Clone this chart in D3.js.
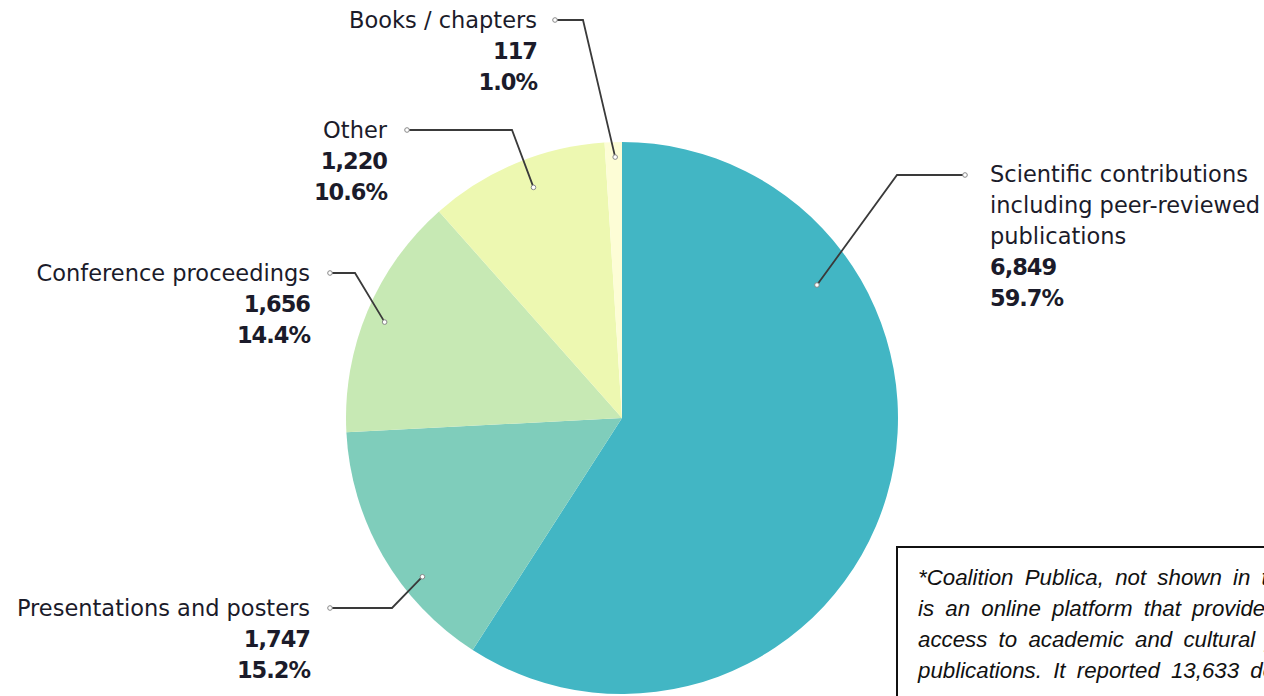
<!DOCTYPE html>
<html>
<head>
<meta charset="utf-8">
<script src="https://cdn.jsdelivr.net/npm/d3@7"></script>
<style>
  body { margin: 0; background: #fff; }
  svg { display: block; }
  .lbl { font-family: "DejaVu Sans", sans-serif; font-size: 22.5px; fill: #1b1b2a; }
  .val { font-weight: 700; letter-spacing: -1px; }
  .note { font-family: "Liberation Sans", Arial, sans-serif; font-style: italic; font-size: 22.3px; fill: #111; }
</style>
</head>
<body>
<div id="chart"></div>
<script>
var width = 1264, height = 696;

// data
var categories = ["Scientific contributions including peer-reviewed publications",
    "Presentations and posters", "Conference proceedings", "Other", "Books / chapters"];
var labelLines = [
    ["Scientific contributions", "including peer-reviewed", "publications"],
    ["Presentations and posters"],
    ["Conference proceedings"],
    ["Other"],
    ["Books / chapters"]
];
var counts = [6849, 1747, 1656, 1220, 117];
var percents = ["59.7%", "15.2%", "14.4%", "10.6%", "1.0%"];
var colors = ["#42b6c4", "#7fcdbb", "#c7e9b4", "#edf8b1", "#fdfdd6"];

var noteLines = [
    "*Coalition Publica, not shown in the chart,",
    "is an online platform that provides open",
    "access to academic and cultural journal",
    "publications. It reported 13,633 documents"
];
// justified text in the original: extra space between words, per line
var noteSpacing = [5, 5, 5, 5];

// label layout: angle of the inner dot (deg, clockwise from top), its radius,
// elbow point, end of leader, and text anchor
var layout = [
    {angle: 55.7, r: 236, elbow: [897, 175], end: [965, 175], tx: 990, ty: 174, anchor: "start"},
    {angle: 231.5, r: 255, elbow: [392, 608], end: [330, 608], tx: 310, ty: 608, anchor: "end"},
    {angle: 292, r: 256, elbow: [355, 273], end: [330, 273], tx: 310, ty: 273, anchor: "end"},
    {angle: 339, r: 247, elbow: [512, 130], end: [407, 130], tx: 387, ty: 130, anchor: "end"},
    {angle: 358.5, r: 261, elbow: [583, 20], end: [555, 20], tx: 537, ty: 20, anchor: "end"}
];

var cx = 622, cy = 418, radius = 276;

var svg = d3.select("#chart").append("svg")
    .attr("width", width)
    .attr("height", height);

var pie = d3.pie().sort(null).value(function(d) { return d; });
var arc = d3.arc().innerRadius(0).outerRadius(radius);

var g = svg.append("g").attr("transform", "translate(" + cx + "," + cy + ")");

g.selectAll("path")
    .data(pie(counts))
    .enter().append("path")
    .attr("d", arc)
    .attr("fill", function(d, i) { return colors[i]; });

// leader lines
layout.forEach(function(l, i) {
    var a = l.angle * Math.PI / 180;
    var px = cx + l.r * Math.sin(a), py = cy - l.r * Math.cos(a);
    svg.append("polyline")
        .attr("points", [[px, py], l.elbow, l.end].map(function(p) { return p.join(","); }).join(" "))
        .attr("fill", "none")
        .attr("stroke", "#3a3a3a")
        .attr("stroke-width", 1.8);
    [[px, py], l.end].forEach(function(p) {
        svg.append("circle")
            .attr("cx", p[0]).attr("cy", p[1]).attr("r", 2.3)
            .attr("fill", "#fff").attr("stroke", "#888").attr("stroke-width", 1);
    });

    var t = svg.append("text")
        .attr("class", "lbl")
        .attr("text-anchor", l.anchor)
        .attr("dominant-baseline", "central");
    var lines = labelLines[i].map(function(s) { return {s: s, bold: false}; })
        .concat([{s: d3.format(",")(counts[i]), bold: true}, {s: percents[i], bold: true}]);
    lines.forEach(function(ln, j) {
        t.append("tspan")
            .attr("x", l.tx)
            .attr("y", l.ty + j * 31)
            .attr("class", ln.bold ? "val" : null)
            .text(ln.s);
    });
});

// footnote box (runs off the right and bottom edges, as in the original)
svg.append("rect")
    .attr("x", 897).attr("y", 547)
    .attr("width", 420).attr("height", 200)
    .attr("fill", "#fff")
    .attr("stroke", "#111")
    .attr("stroke-width", 2);

var note = svg.append("text").attr("class", "note");
noteLines.forEach(function(s, j) {
    note.append("tspan")
        .attr("x", 918)
        .attr("y", 585 + j * 31)
        .attr("word-spacing", noteSpacing[j])
        .text(s);
});
</script>
</body>
</html>
